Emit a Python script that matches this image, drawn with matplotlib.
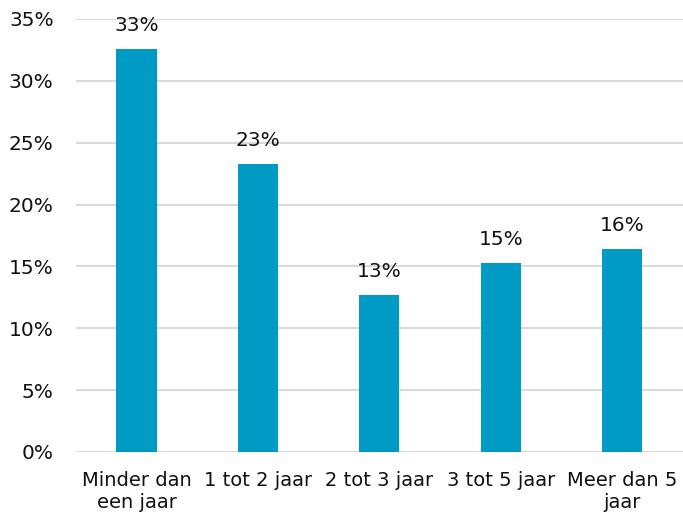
import matplotlib
matplotlib.use("Agg")
import matplotlib.pyplot as plt
from matplotlib.ticker import FuncFormatter

categories = ["Minder dan\neen jaar", "1 tot 2 jaar", "2 tot 3 jaar", "3 tot 5 jaar", "Meer dan 5\njaar"]
shares = [32.6, 23.3, 12.7, 15.3, 16.4]  # percent
y_ticks = [0, 5, 10, 15, 20, 25, 30, 35]

bar_color = "#009BC4"
grid_color = "#D9D9D9"
text_color = "#111111"

plt.rcParams["font.family"] = ["DejaVu Sans"]

fig = plt.figure(figsize=(6.83, 5.20), dpi=100)
ax = fig.add_axes([0.111, 0.1308, 0.889, 0.8327])

x = list(range(len(categories)))
ax.bar(x, shares, width=0.33, color=bar_color, zorder=3)

for xi, v in zip(x, shares):
    ax.annotate(f"{v:.0f}%", xy=(xi, v), xytext=(0, 10), textcoords="offset points",
                ha="center", va="bottom", fontsize=14.5, color=text_color)

ax.set_ylim(0, 35)
ax.set_xlim(-0.5, len(categories) - 0.5)
ax.set_yticks(y_ticks)
ax.yaxis.set_major_formatter(FuncFormatter(lambda v, _: f"{v:.0f}%"))
ax.set_xticks(x)
ax.set_xticklabels(categories, fontsize=14, color=text_color, linespacing=1.15)
ax.tick_params(axis="y", length=0, pad=16, labelsize=14.5, labelcolor=text_color)
ax.tick_params(axis="x", length=0, pad=14)

ax.grid(axis="y", color=grid_color, linewidth=1.5, zorder=0)
for s in ax.spines.values():
    s.set_visible(False)

fig.savefig("out.png", dpi=100)
